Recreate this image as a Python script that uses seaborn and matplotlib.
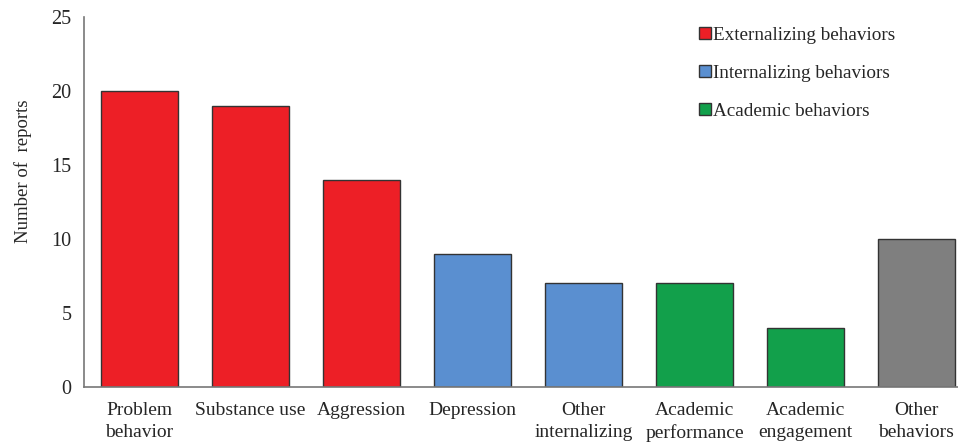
import pandas as pd
import seaborn as sns
import matplotlib.pyplot as plt
from matplotlib.lines import Line2D

# data
categories = ["Problem\nbehavior", "Substance use", "Aggression", "Depression",
              "Other\ninternalizing", "Academic\nperformance", "Academic\nengagement",
              "Other\nbehaviors"]
reports = [20, 19, 14, 9, 7, 7, 4, 10]
groups = ["Externalizing behaviors"] * 3 + ["Internalizing behaviors"] * 2 + \
         ["Academic behaviors"] * 2 + ["Other"]
legend_groups = ["Externalizing behaviors", "Internalizing behaviors", "Academic behaviors"]
colors = {"Externalizing behaviors": "#ED1F26",
          "Internalizing behaviors": "#5A8FD0",
          "Academic behaviors": "#12A04B",
          "Other": "#7F7F7F"}

df = pd.DataFrame({"category": categories, "reports": reports, "group": groups})

sns.set_style("white")
plt.rcParams['font.family'] = ['Liberation Serif', 'DejaVu Serif']

fig = plt.figure(figsize=(9.58, 4.45), dpi=100)
ax = fig.add_axes([0.0877, 0.1303, 0.9123, 0.8315])

sns.barplot(data=df, x="category", y="reports", hue="group", palette=colors,
            dodge=False, width=0.685, edgecolor="#333333", linewidth=1.0,
            saturation=1, legend=False, ax=ax)

ax.set_ylim(0, 25)
ax.set_yticks([0, 5, 10, 15, 20, 25])
ax.set_xlim(-0.5, 7.374)
ax.set_xlabel("")
ax.set_ylabel("Number of  reports", fontsize=13.5)
ax.yaxis.set_label_coords(-0.06, 0.584)
ax.tick_params(axis="x", length=0, labelsize=14, pad=11)
ax.tick_params(axis="y", length=0, labelsize=14.5, pad=9)
for lbl in ax.get_xticklabels():
    lbl.set_linespacing(1.35)

for side in ["top", "right"]:
    ax.spines[side].set_visible(False)
for side in ["left", "bottom"]:
    ax.spines[side].set_color("#777777")
    ax.spines[side].set_linewidth(1.2)

handles = [Line2D([0], [0], marker="s", linestyle="none", markersize=8,
                  markerfacecolor=colors[g], markeredgecolor="#333333")
           for g in legend_groups]
ax.legend(handles, legend_groups, loc="upper left", bbox_to_anchor=(0.683, 1.022),
          frameon=False, fontsize=13.8, handletextpad=0.05, labelspacing=1.08,
          handlelength=0.7)

fig.savefig("out.png", dpi=100)
